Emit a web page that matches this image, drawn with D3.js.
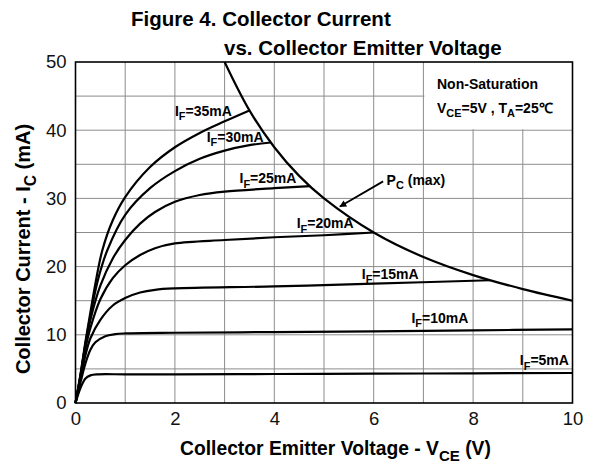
<!DOCTYPE html>
<html><head><meta charset="utf-8">
<script src="https://cdn.jsdelivr.net/npm/d3@7"></script>
<style>
body{margin:0;background:#fff}
text{font-family:"Liberation Sans",Arial,Helvetica,sans-serif}
</style>
</head><body>
<svg id="chart" width="589" height="464"></svg>
<script>
// ---------- data ----------
const xTicks = [0, 2, 4, 6, 8, 10];
const yTicks = [0, 10, 20, 30, 40, 50];
const ifLevels = ["5", "10", "15", "20", "25", "30", "35"];
// Collector current (mA) vs VCE (V)
const curve5  = [[0,0],[0.1,2.2],[0.2,3.6],[0.3,4.05],[0.45,4.2],[1,4.2],[2,4.2],[4,4.25],[6,4.3],[8,4.35],[10,4.4]];
const curve10 = [[0,0],[0.1,3],[0.2,5.8],[0.3,7.8],[0.4,8.9],[0.6,9.8],[0.8,10.1],[1,10.2],[2,10.3],[4,10.4],[6,10.5],[8,10.65],[10,10.8]];
const curve15 = [[0,0],[0.1,3.5],[0.2,7],[0.3,9.5],[0.5,12.2],[0.75,14.3],[1,15.4],[1.3,16.2],[1.6,16.6],[2,16.8],[4,17.1],[6,17.5],[8.34,18.0]];
const curve20 = [[0,0],[0.1,3.8],[0.2,8],[0.3,11],[0.5,15.2],[0.75,18.3],[1,20.2],[1.3,21.7],[1.6,22.7],[2,23.4],[3,23.9],[4,24.3],[5,24.6],[6,25.0]];
const curve25 = [[0,0],[0.1,4],[0.2,8.5],[0.3,12.2],[0.5,17.2],[0.75,21.2],[1,23.9],[1.3,26.3],[1.6,28.0],[2,29.5],[2.5,30.5],[3,31],[4,31.5],[4.72,31.8]];
const curve30 = [[0,0],[0.1,4],[0.2,8.7],[0.3,12.8],[0.45,18],[0.64,22.4],[1,27.6],[1.5,31.5],[2,34],[2.5,35.8],[3,37],[3.5,37.8],[3.93,38.2]];
const curve35 = [[0,0],[0.1,4.2],[0.2,9],[0.3,13.3],[0.4,17.5],[0.54,22.4],[0.75,26.8],[1,30.2],[1.5,34.6],[2,37.5],[2.5,39.6],[3,41.3],[3.5,42.9]];
const pcMax   = [[3,50],[3.5,42.9],[4,37.5],[4.5,33.3],[5,30],[6,25],[7,21.4],[8,18.75],[9,16.7],[10,15]];

const curves = [curve5, curve10, curve15, curve20, curve25, curve30, curve35];
// label anchors (V, mA)
const labelAnchor = [[8.94,5.5],[6.76,11.7],[5.76,18.2],[4.45,25.6],[3.30,32.2],[2.64,38.3],[2.0,42.1]];

// ---------- layout ----------
const svg = d3.select("#chart");
svg.append("rect").attr("width",589).attr("height",464).attr("fill","#fff");
const x = d3.scaleLinear().domain([0,10]).range([75.5,572.5]);
const y = d3.scaleLinear().domain([0,50]).range([403,62]);

// grid
const g = svg.append("g");
g.selectAll("line.v").data(d3.range(1,10)).join("line")
  .attr("x1",d=>x(d)).attr("x2",d=>x(d)).attr("y1",y(0)).attr("y2",y(50))
  .attr("stroke","#8c8c8c").attr("stroke-width",1);
g.selectAll("line.h").data(d3.range(5,50,5)).join("line")
  .attr("y1",d=>y(d)).attr("y2",d=>y(d)).attr("x1",x(0)).attr("x2",x(10))
  .attr("stroke","#8c8c8c").attr("stroke-width",1);
// blank area behind condition note
g.append("rect").attr("x",x(7)+1).attr("y",y(50)).attr("width",x(10)-x(7)-1).attr("height",y(40)-y(50)-1).attr("fill","#fff");

// axes
const xAxis = svg.append("g").attr("transform",`translate(0,${y(0)})`)
  .call(d3.axisBottom(x).tickValues(xTicks).tickSize(0).tickPadding(9));
const yAxis = svg.append("g").attr("transform",`translate(${x(0)},0)`)
  .call(d3.axisLeft(y).tickValues(yTicks).tickSize(0).tickPadding(9));
[xAxis,yAxis].forEach(a=>{
  a.select(".domain").remove();
  a.selectAll("text").attr("font-size",18.5).attr("fill","#111")
   .style("font-family",'"Liberation Sans",Arial,sans-serif');
});

// curves
const line = d3.line().x(d=>x(d[0])).y(d=>y(d[1])).curve(d3.curveCatmullRom.alpha(0.5));
svg.append("g").selectAll("path").data(curves).join("path")
  .attr("d",line).attr("fill","none").attr("stroke","#000").attr("stroke-width",2.2)
  .attr("stroke-linejoin","round");
svg.append("path").datum(pcMax).attr("d",line).attr("fill","none")
  .attr("stroke","#000").attr("stroke-width",2.2);

// frame
svg.append("rect").attr("x",x(0)).attr("y",y(50)).attr("width",x(10)-x(0)).attr("height",y(0)-y(50))
  .attr("fill","none").attr("stroke","#000").attr("stroke-width",1.6);

// text with subscript helper
function rich(sel, parts, size){
  parts.forEach(([t,s])=>{
    const ts = sel.append("tspan").text(t);
    ts.attr("font-size", s ? size*0.78 : size);
  });
  let sh=0;
  sel.selectAll("tspan").each(function(d,i){
    const want = parts[i][1] ? size*0.3 : 0;
    d3.select(this).attr("dy", want - sh);
    sh = want;
  });
  return sel;
}

// IF labels
ifLevels.forEach((lv,i)=>{
  const [vx,vy] = labelAnchor[i];
  const t = svg.append("text").attr("x",x(vx)).attr("y",y(vy)).attr("font-weight","bold").attr("fill","#000");
  rich(t, [["I",0],["F",1],["="+lv+"mA",0]], 14);
});

// Pc label + arrow
svg.append("defs").append("marker").attr("id","ah").attr("viewBox","0 0 10 10")
  .attr("refX",9).attr("refY",5).attr("markerWidth",9).attr("markerHeight",7).attr("orient","auto")
  .attr("markerUnits","userSpaceOnUse")
  .append("path").attr("d","M0,0 L10,5 L0,10 z").attr("fill","#000");
svg.append("line").attr("x1",x(6.19)).attr("y1",y(32.5)).attr("x2",x(5.32)).attr("y2",y(28.8))
  .attr("stroke","#000").attr("stroke-width",1.8).attr("marker-end","url(#ah)");
rich(svg.append("text").attr("x",x(6.26)).attr("y",y(32.0)).attr("font-weight","bold"),
  [["P",0],["C",1],[" (max)",0]], 14);

// conditions
svg.append("text").attr("x",437).attr("y",89).attr("font-weight","bold").attr("font-size",14).text("Non-Saturation");
rich(svg.append("text").attr("x",437).attr("y",113).attr("font-weight","bold"),
  [["V",0],["CE",1],["=5V , T",0],["A",1],["=25\u2103",0]], 14);

// title
svg.append("text").attr("x",131).attr("y",26).attr("font-weight","bold").attr("font-size",20.5).text("Figure 4. Collector Current");
svg.append("text").attr("x",224).attr("y",55).attr("font-weight","bold").attr("font-size",20.5).text("vs. Collector Emitter Voltage");

// axis titles
rich(svg.append("text").attr("x",180).attr("y",455).attr("font-weight","bold"),
  [["Collector Emitter Voltage - V",0],["CE",1],[" (V)",0]], 19.3);
rich(svg.append("text").attr("transform","translate(30,249) rotate(-90)").attr("text-anchor","middle").attr("font-weight","bold"),
  [["Collector Current - I",0],["C",1],[" (mA)",0]], 20);
</script>
</body></html>
